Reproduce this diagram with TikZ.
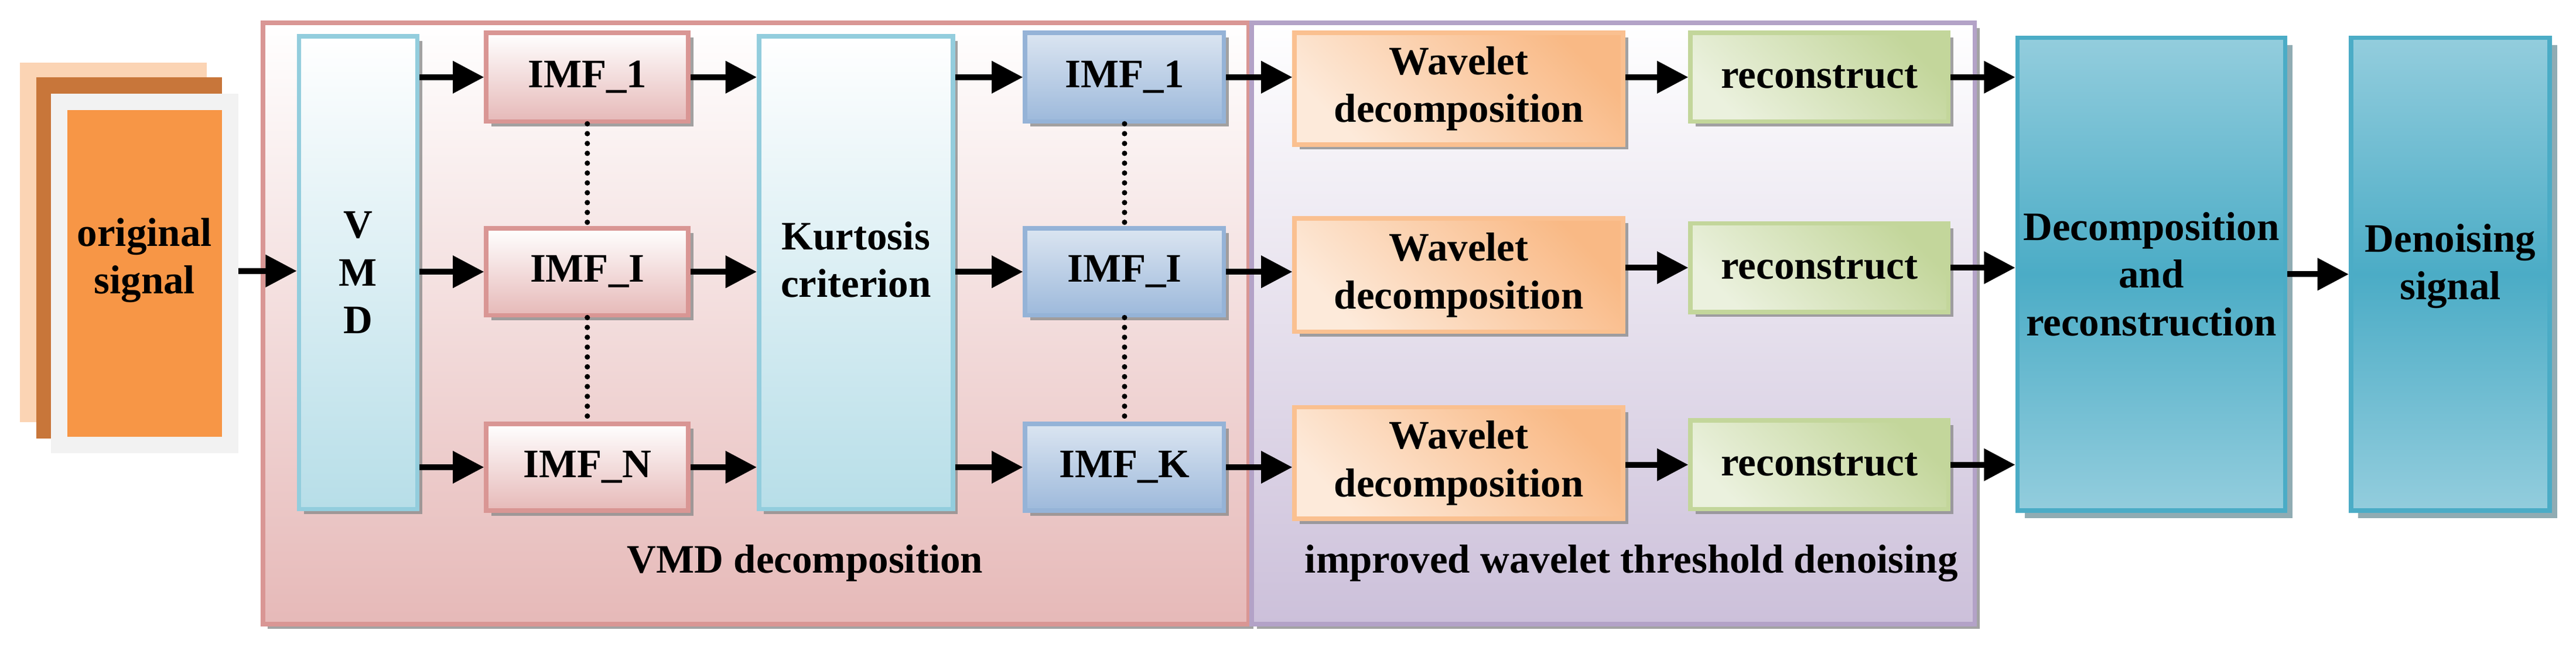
\documentclass[tikz,border=0pt]{standalone}
\usepackage{fontspec}
\setmainfont{Liberation Serif}
\usetikzlibrary{fit,shadows,arrows.meta}
\definecolor{redB}{HTML}{D99694}\definecolor{redF}{HTML}{E6B9B8}
\definecolor{purB}{HTML}{B3A2C7}\definecolor{purF}{HTML}{CCC0DA}
\definecolor{cyB}{HTML}{93CDDD}\definecolor{cyF}{HTML}{B7DEE8}
\definecolor{bluB}{HTML}{95B3D7}\definecolor{bluT}{HTML}{DBE5F1}\definecolor{bluF}{HTML}{9DB9DB}
\definecolor{orB}{HTML}{FAC090}\definecolor{orL}{HTML}{FDEADA}\definecolor{orD}{HTML}{F9B985}
\definecolor{grB}{HTML}{C3D69B}\definecolor{grL}{HTML}{EBF1DE}
\definecolor{tealB}{HTML}{4BACC6}\definecolor{tealL}{HTML}{93CDDD}\definecolor{tealS}{HTML}{215A68}
\definecolor{sigO}{HTML}{F79646}\definecolor{sigL}{HTML}{FBD4B4}\definecolor{sigD}{HTML}{C8763A}
\newcommand\bxx[6]{\node[#6, fit={(#2,#3)(#4,#5)}, inner sep=0pt] (#1) {};}
\tikzset{
  x=0.02cm, y=-0.02cm,
  bord/.style={draw, line width=0.055cm},
  shad/.style={drop shadow={shadow xshift=0.06cm, shadow yshift=-0.06cm, fill=black!45, opacity=0.8}},
  grp1/.style={bord, draw=redB, shad, top color=white, bottom color=redF},
  grp2/.style={bord, draw=purB, shad, top color=white, bottom color=purF},
  cyan box/.style={bord, draw=cyB, shad, top color=white, bottom color=cyF},
  imfL/.style={bord, draw=redB, shad, top color=white, bottom color=redF},
  imfR/.style={bord, draw=bluB, shad, top color=bluT, bottom color=bluF},
  wav/.style={bord, draw=orB, shad, top color=orD, bottom color=orL, shading angle=-45},
  rec/.style={bord, draw=grB, shad, top color=grB, bottom color=grL, shading angle=-45},
  teal box/.style={bord, draw=tealB, drop shadow={shadow xshift=0.09cm, shadow yshift=-0.09cm, fill=tealS},
     top color=tealL, bottom color=tealL, middle color=tealB},
  txt/.style={font=\fontsize{14}{16.5}\selectfont\bfseries, align=center, inner sep=0pt},
  arr/.style={line width=0.07cm, -{Triangle[length=0.38cm,width=0.38cm]}},
  dots/.style={line width=0.065cm, line cap=round, dash pattern=on 0pt off 0.12cm},
}
\begin{document}
\begin{tikzpicture}
\useasboundingbox (0,0) rectangle (1568,398);
% original signal stack
\fill[sigL] (12,38) rectangle (126,257);
\fill[sigD] (22,47) rectangle (135,267);
\fill[black!5] (31,57) rectangle (145,276);
\bxx{sig}{41}{67}{135}{266}{fill=sigO}
\node[txt] (sigt) at ([yshift=0.16cm]sig.center) {original\\signal};
% groups
\bxx{g1}{160}{14}{760}{380}{grp1}
\bxx{g2}{762}{14}{1202}{380}{grp2}
\node[txt] (g1t) at (490,343) {VMD decomposition};
\node[txt] (g2t) at (993,343) {improved wavelet threshold denoising};
% VMD and Kurtosis
\bxx{vmd}{182}{22}{254}{310}{cyan box}
\node[txt] (vmdt) at (vmd.center) {V\\M\\D};
\bxx{kur}{462}{22}{580}{310}{cyan box}
\node[txt] (kurt) at ([yshift=0.16cm]kur.center) {Kurtosis\\criterion};
% IMF left
\bxx{il1}{296}{20}{419}{74}{imfL}
\bxx{il2}{296}{139}{419}{192}{imfL}
\bxx{il3}{296}{258}{419}{311}{imfL}
\node[txt] (il1t) at (il1) {IMF\_1};
\node[txt] (il2t) at (il2) {IMF\_I};
\node[txt] (il3t) at (il3) {IMF\_N};
% IMF right
\bxx{ir1}{624}{20}{745}{74}{imfR}
\bxx{ir2}{624}{139}{745}{192}{imfR}
\bxx{ir3}{624}{258}{745}{311}{imfR}
\node[txt] (ir1t) at (ir1) {IMF\_1};
\node[txt] (ir2t) at (ir2) {IMF\_I};
\node[txt] (ir3t) at (ir3) {IMF\_K};
% wavelet
\bxx{w1}{788}{20}{988}{88}{wav}
\bxx{w2}{788}{133}{988}{202}{wav}
\bxx{w3}{788}{248}{988}{316}{wav}
\node[txt] (w1t) at (w1) {Wavelet\\decomposition};
\node[txt] (w2t) at (w2) {Wavelet\\decomposition};
\node[txt] (w3t) at (w3) {Wavelet\\decomposition};
% reconstruct
\bxx{r1}{1029}{20}{1186}{74}{rec}
\bxx{r2}{1029}{136}{1186}{190}{rec}
\bxx{r3}{1029}{256}{1186}{310}{rec}
\node[txt] (r1t) at (r1) {reconstruct};
\node[txt] (r2t) at (r2) {reconstruct};
\node[txt] (r3t) at (r3) {reconstruct};
% right blocks
\bxx{dec}{1228}{23}{1391}{311}{teal box}
\node[txt] (dect) at (dec) {Decomposition\\and\\reconstruction};
\bxx{den}{1431}{23}{1552}{311}{teal box}
\node[txt] (dent) at ([yshift=0.1cm]den.center) {Denoising\\signal};
% dotted links
\draw[dots] (il1.south) -- (il2.north);
\draw[dots] (il2.south) -- (il3.north);
\draw[dots] (ir1.south) -- (ir2.north);
\draw[dots] (ir2.south) -- (ir3.north);
% arrows
\coordinate (sigE) at (145,165);
\draw[arr] (sigE) -- (sigE -| vmd.west);
\foreach \i in {1,2,3}{
  \draw[arr] (il\i.west -| vmd.east) -- (il\i.west);
  \draw[arr] (il\i.east) -- (il\i.east -| kur.west);
  \draw[arr] (ir\i.west -| kur.east) -- (ir\i.west);
  \draw[arr] (ir\i.east) -- (ir\i.east -| w\i.west);
  \draw[arr] (r\i.west -| w\i.east) -- (r\i.west);
  \draw[arr] (r\i.east) -- (r\i.east -| dec.west);
}
\draw[arr] (dec.east) -- (den.west);
\end{tikzpicture}
\end{document}
